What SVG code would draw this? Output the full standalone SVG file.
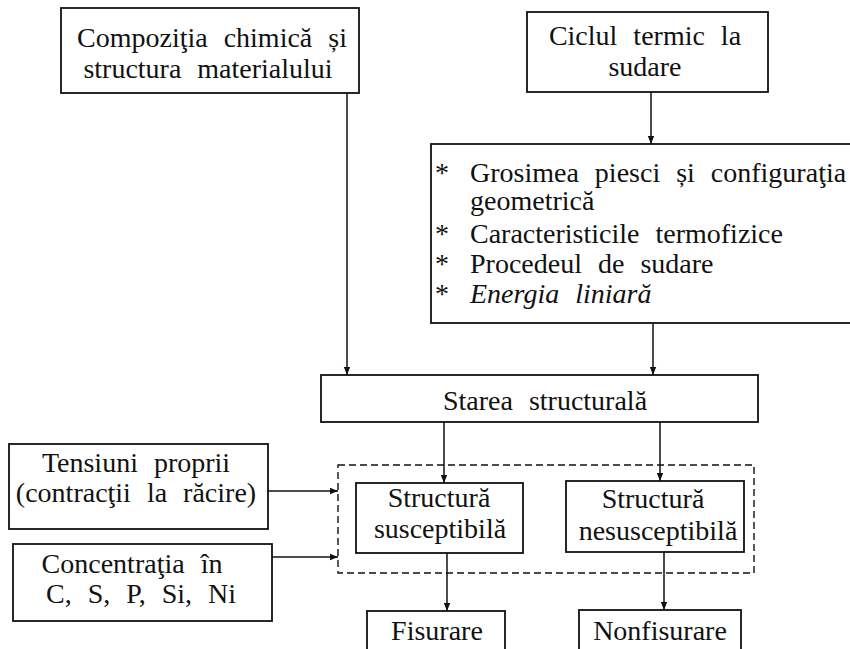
<svg xmlns="http://www.w3.org/2000/svg" width="850" height="649" viewBox="0 0 850 649">
<defs>
<marker id="ah" markerWidth="8" markerHeight="8" refX="8" refY="4" orient="auto" markerUnits="userSpaceOnUse">
<path d="M0,0.8 L8,4 L0,7.2 Z" fill="#111"/>
</marker>
<style>
.b{fill:#fff;stroke:#111;stroke-width:1.8}
.c{text-anchor:middle}
.l{fill:none;stroke:#111;stroke-width:1.5}
.d{fill:none;stroke:#111;stroke-width:1.4;stroke-dasharray:7 4}
</style>
</defs>
<rect width="850" height="649" fill="#fff"/>
<g id="connectors">
<line class="l" x1="347" y1="93" x2="347" y2="375" marker-end="url(#ah)"/>
<line class="l" x1="651" y1="92" x2="651" y2="144" marker-end="url(#ah)"/>
<line class="l" x1="653" y1="323" x2="653" y2="375" marker-end="url(#ah)"/>
<line class="l" x1="444" y1="422" x2="444" y2="483" marker-end="url(#ah)"/>
<line class="l" x1="660" y1="422" x2="660" y2="481" marker-end="url(#ah)"/>
<line class="l" x1="447" y1="553" x2="447" y2="611" marker-end="url(#ah)"/>
<line class="l" x1="664" y1="552" x2="664" y2="610" marker-end="url(#ah)"/>
<line class="l" x1="268" y1="491" x2="338" y2="491" marker-end="url(#ah)"/>
<line class="l" x1="272" y1="557" x2="338" y2="557" marker-end="url(#ah)"/>
</g>
<g id="group-dashed">
<rect class="d" x="338" y="465" width="416" height="108"/>
</g>
<g font-family="Liberation Serif, Times New Roman, serif" font-size="28" fill="#111" word-spacing="9">
<g id="n-compozitia">
<rect class="b" x="61" y="8" width="298" height="85"/>
<text class="c" x="212" y="47">Compoziţia chimică și</text>
<text class="c" x="208" y="78">structura materialului</text>
</g>
<g id="n-ciclul">
<rect class="b" x="527" y="12" width="241" height="80"/>
<text class="c" x="645" y="45">Ciclul termic la</text>
<text class="c" x="645" y="76">sudare</text>
</g>
<g id="n-factori">
<rect class="b" x="431" y="144" width="422" height="179"/>
<text x="435" y="182">*</text>
<text x="470" y="182">Grosimea piesci și configuraţia</text>
<text x="470" y="210">geometrică</text>
<text x="435" y="243">*</text>
<text x="470" y="243">Caracteristicile termofizice</text>
<text x="435" y="273">*</text>
<text x="470" y="273">Procedeul de sudare</text>
<text x="435" y="303">*</text>
<text font-style="italic" x="470" y="303">Energia liniară</text>
</g>
<g id="n-starea">
<rect class="b" x="321" y="375" width="437" height="47"/>
<text class="c" x="545" y="410">Starea structurală</text>
</g>
<g id="n-tensiuni">
<rect class="b" x="9" y="444" width="259" height="85"/>
<text class="c" x="136" y="472">Tensiuni proprii</text>
<text class="c" x="136" y="502">(contracţii la răcire)</text>
</g>
<g id="n-concentratia">
<rect class="b" x="13" y="544" width="259" height="77"/>
<text class="c" x="132" y="573">Concentraţia în</text>
<text class="c" x="141" y="603">C, S, P, Si, Ni</text>
</g>
<g id="n-susceptibila">
<rect class="b" x="356" y="483" width="167" height="70"/>
<text class="c" x="439" y="507">Structură</text>
<text class="c" x="440" y="538">susceptibilă</text>
</g>
<g id="n-nesusceptibila">
<rect class="b" x="566" y="481" width="178" height="71"/>
<text class="c" x="653" y="508">Structură</text>
<text class="c" x="658" y="540">nesusceptibilă</text>
</g>
<g id="n-fisurare">
<rect class="b" x="367" y="611" width="138" height="45"/>
<text class="c" x="437" y="640">Fisurare</text>
</g>
<g id="n-nonfisurare">
<rect class="b" x="579" y="610" width="162" height="46"/>
<text class="c" x="660" y="640">Nonfisurare</text>
</g>
</g>
</svg>
